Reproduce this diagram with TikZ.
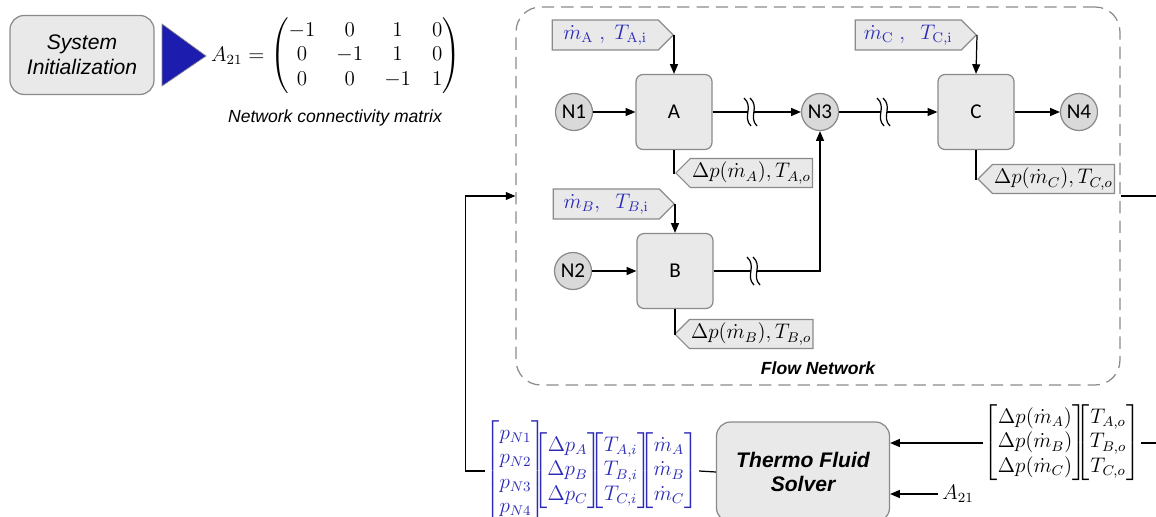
\documentclass[tikz,border=0pt]{standalone}
\usepackage{amsmath}
\usepackage[no-math]{fontspec}
\setmainfont{Liberation Sans}
\newfontfamily\calfont{Carlito}
\usetikzlibrary{shapes.symbols,arrows.meta}
\definecolor{boxfill}{HTML}{E9E9E9}
\definecolor{boxline}{HTML}{8A8A8A}
\definecolor{juncfill}{HTML}{D9D9D9}
\definecolor{inblue}{HTML}{2B2BB8}
\definecolor{tridark}{HTML}{1C1CAE}
\tikzset{
    brk/.pic={
        \fill[white] (-6,-14) .. controls (4,-5) and (-8,5) .. (1,14) -- (7,14) .. controls (-2,5) and (10,-5) .. (0,-14) -- cycle;
        \draw (-6,-14) .. controls (4,-5) and (-8,5) .. (1,14);
        \draw (0,-14) .. controls (10,-5) and (-2,5) .. (7,14);
    }
}
\begin{document}
\begin{tikzpicture}[
    x=0.02cm, y=-0.02cm, line width=0.7pt,
    block/.style={rectangle, rounded corners=4pt, draw=boxline, fill=boxfill, minimum width=1.52cm, minimum height=1.5cm, font=\calfont\large},
    junc/.style={circle, draw=boxline, fill=juncfill, minimum size=0.74cm, inner sep=0pt, font=\calfont\large},
    intag/.style={signal, signal to=east, draw=boxline, fill=boxfill, minimum width=2.42cm, minimum height=0.6cm, inner sep=1pt, text=inblue, anchor=east, font=\large},
    outtag/.style={signal, signal to=west, draw=boxline, fill=boxfill, minimum width=2.72cm, minimum height=0.58cm, inner sep=1pt, anchor=west, font=\large},
    bigbox/.style={rectangle, rounded corners=8pt, draw=boxline, fill=boxfill, align=center},
    flow/.style={-{Triangle[length=5.5pt, width=4.5pt]}}
]
    \useasboundingbox (0,0) rectangle (1156,517);
    \clip (0,0) rectangle (1156,517);

    \node[bigbox, minimum width=2.88cm, minimum height=1.58cm, font=\large\itshape] (init) at (82,55) {System\\Initialization};
    \fill[tridark, draw=boxline, line width=0.4pt] (162,24) -- (206,56) -- (162,86) -- cycle;
    \node (amat) at (336,56) {\large \setlength\arraycolsep{6pt}$A_{21}=\begin{pmatrix}-1&0&1&0\\0&-1&1&0\\0&0&-1&1\end{pmatrix}$};
    \node[font=\itshape] (acap) at (335,118) {Network connectivity matrix};

    \node[rectangle, draw=boxline, dashed, dash pattern=on 7pt off 4pt, rounded corners=14pt, minimum width=12.08cm, minimum height=7.56cm] (net) at (818,196) {};
    \node[font=\bfseries\itshape] (netcap) at (818,368) {Flow Network};

    \node[junc] (N1) at (574,112) {N1};
    \node[junc] (N2) at (573,271) {N2};
    \node[junc] (N3) at (820,112) {N3};
    \node[junc] (N4) at (1079,112) {N4};
    \node[block] (A) at (674,112) {A};
    \node[block] (B) at (675,271) {B};
    \node[block] (C) at (976,112) {C};

    \node[intag] (inA) at (674,35) {$\dot m_{\mathrm{A}}\ ,\ T_{\mathrm{A,i}}$};
    \node[intag] (inB) at (675,204) {$\dot m_B,\ \ T_{B,\mathrm{i}}$};
    \node[intag] (inC) at (977,35) {$\dot m_{\mathrm{C}}\ ,\ \ T_{\mathrm{C,i}}$};
    \node[outtag] (outA) at (675,173) {$\Delta p(\dot m_A),T_{A,o}$};
    \node[outtag] (outB) at (674,334) {$\Delta p(\dot m_B),T_{B,o}$};
    \node[outtag] (outC) at (977,179) {$\Delta p(\dot m_C),T_{C,o}$};

    \draw[flow] (inA.east) -- (A.north);
    \draw[flow] (inB.east) -- (B.north);
    \draw[flow] (inC.east) -- (C.north);
    \draw (A.south) |- (outA.west);
    \draw (B.south) |- (outB.west);
    \draw (C.south) |- (outC.west);

    \draw[flow] (N1) -- (A);
    \draw[flow] (N2) -- (B);
    \draw[flow] (A) -- (N3);
    \draw[flow] (N3) -- (C);
    \draw[flow] (C) -- (N4);
    \draw[flow] (B.east) -| (N3.south);
    \pic at (750,112) {brk};
    \pic at (883,112) {brk};
    \pic at (753,271) {brk};

    \node[bigbox, minimum width=3.46cm, minimum height=2cm, font=\large\bfseries\itshape] (solver) at (803,472) {Thermo Fluid\\Solver};
    \node[text=inblue, inner sep=0pt] (pvec) at (592,471) {\large $\begin{bmatrix}p_{N1}\\p_{N2}\\p_{N3}\\p_{N4}\end{bmatrix}\hspace{-9pt}\begin{bmatrix}\Delta p_A\\\Delta p_B\\\Delta p_C\end{bmatrix}\hspace{-9pt}\begin{bmatrix}T_{A,i}\\T_{B,i}\\T_{C,i}\end{bmatrix}\hspace{-9pt}\begin{bmatrix}\dot m_A\\\dot m_B\\\dot m_C\end{bmatrix}$};
    \node[inner sep=0pt] (dvec) at (1062,443) {\large $\begin{bmatrix}\Delta p(\dot m_A)\\\Delta p(\dot m_B)\\\Delta p(\dot m_C)\end{bmatrix}\hspace{-8pt}\begin{bmatrix}T_{A,o}\\T_{B,o}\\T_{C,o}\end{bmatrix}$};
    \node[inner sep=2pt] (alab) at (958,494) {\large $A_{21}$};

    \draw (pvec.east) -- (solver.west);
    \draw[flow] (dvec.west) -- (dvec.west -| solver.east);
    \draw[flow] (alab.west) -- (alab.west -| solver.east);
    \draw (dvec.east) -- ++(30,0);
    \draw (net.east) -- ++(45,0);
    \draw[flow] (pvec.west) -- ++(-19,0) |- (net.west);
\end{tikzpicture}
\end{document}
